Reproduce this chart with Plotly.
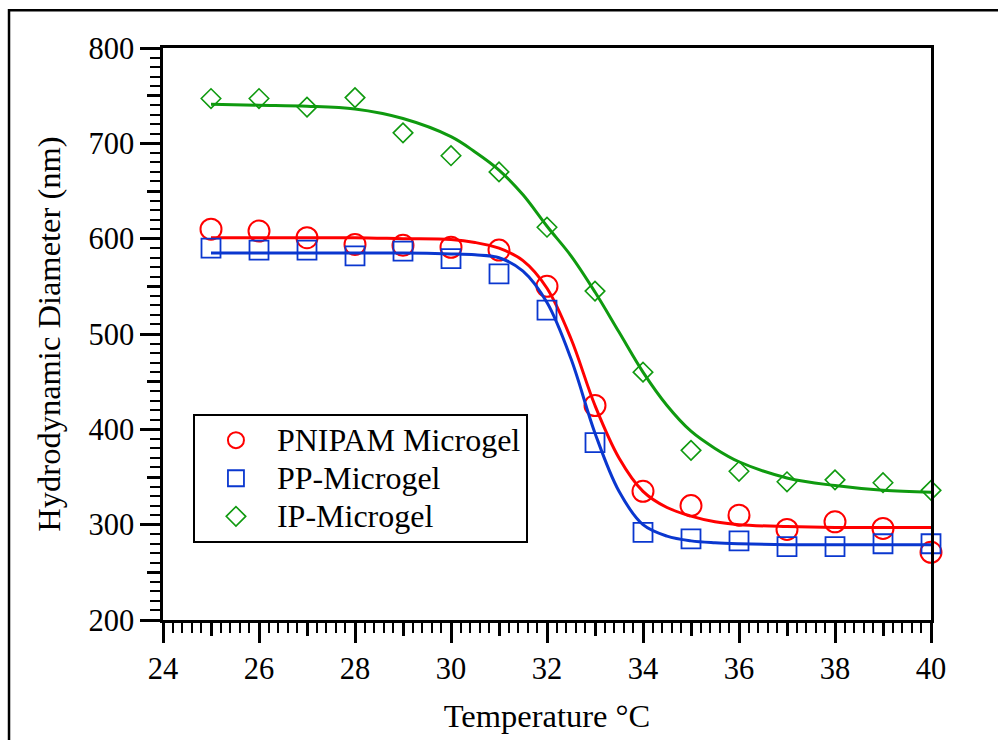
import plotly.graph_objects as go

# ---- measured data ----
temps = [25, 26, 27, 28, 29, 30, 31, 32, 33, 34, 35, 36, 37, 38, 39, 40]
pnipam = [610, 608, 601, 594, 593, 591, 588, 550, 425, 335, 320, 310, 295, 303, 296, 271]
pp = [590, 588, 588, 582, 587, 579, 563, 525, 386, 292, 285, 283, 277, 277, 280, 280]
ip = [747, 747, 738, 748, 711, 687, 670, 612, 545, 460, 378, 356, 345, 347, 344, 336]

# ---- fitted curves ----
fit_t = [25, 26, 27, 28, 29, 30, 30.5, 31, 31.5, 32, 32.5, 33, 33.5, 34, 34.5, 35, 35.5, 36, 37, 38, 39, 40]
fit_pnipam = [601, 601, 601, 601, 600, 599, 596, 590, 577, 548, 495, 425, 370, 335, 318, 309, 303, 300, 298, 297, 297, 297]
fit_pp = [585, 585, 585, 585, 585, 584, 583, 580, 566, 533, 474, 396, 335, 300, 288, 283, 281, 280, 279, 279, 279, 279]
fit_ip = [741, 740, 739, 736, 726, 707, 691, 672, 646, 613, 582, 544, 502, 460, 425, 398, 380, 366, 349, 341, 336, 334]

names = ["PNIPAM Microgel", "PP-Microgel", "IP-Microgel"]
x_ticks = [24, 26, 28, 30, 32, 34, 36, 38, 40]
y_ticks = [200, 300, 400, 500, 600, 700, 800]

RED = "#ff0000"
BLUE = "#0a37cf"
GREEN = "#0f9a0f"
FONT = "Liberation Serif"


def big(s):
    return '<span style="font-size:32px">' + s + '</span>'


fig = go.Figure()

fig.add_trace(go.Scatter(x=fit_t, y=fit_ip, mode="lines", line=dict(color=GREEN, width=3, shape="spline"),
                         showlegend=False, hoverinfo="skip"))
fig.add_trace(go.Scatter(x=fit_t, y=fit_pnipam, mode="lines", line=dict(color=RED, width=3, shape="spline"),
                         showlegend=False, hoverinfo="skip"))
fig.add_trace(go.Scatter(x=fit_t, y=fit_pp, mode="lines", line=dict(color=BLUE, width=3, shape="spline"),
                         showlegend=False, hoverinfo="skip", xaxis="x2", yaxis="y2"))

fig.add_trace(go.Scatter(x=temps, y=pnipam, mode="markers", name=big(names[0]), cliponaxis=False,
                         marker=dict(symbol="circle-open", size=21, color=RED, line=dict(width=2, color=RED))))
fig.add_trace(go.Scatter(x=temps, y=pp, mode="markers", name=big(names[1]), cliponaxis=False,
                         marker=dict(symbol="square-open", size=19, color=BLUE, line=dict(width=1.8, color=BLUE))))
fig.add_trace(go.Scatter(x=temps, y=ip, mode="markers", name=big(names[2]), cliponaxis=False,
                         marker=dict(symbol="diamond-open", size=15, color=GREEN, line=dict(width=1.6, color=GREEN))))

axis_common = dict(showgrid=False, zeroline=False, ticks="outside", tickcolor="black", tickwidth=2.5)

fig.update_layout(
    width=998, height=740,
    margin=dict(l=163, r=67, t=48, b=118),
    paper_bgcolor="white", plot_bgcolor="white",
    font=dict(family=FONT, size=30, color="black"),
    xaxis=dict(range=[24, 40], tickvals=x_ticks, ticklen=20, showline=True, linecolor="black", linewidth=2.5,
               mirror=True, minor=dict(dtick=0.2, ticklen=10, tickcolor="black", tickwidth=2, ticks="outside"),
               tickfont=dict(size=30.5), title=dict(text="Temperature °C", font=dict(size=32.5), standoff=19),
               **axis_common),
    yaxis=dict(range=[200, 800], tickvals=y_ticks, ticklen=20, showline=True, linecolor="black", linewidth=2.5,
               mirror=True, minor=dict(dtick=10, ticklen=10, tickcolor="black", tickwidth=2, ticks="outside"),
               tickfont=dict(size=30.5), title=dict(text="Hydrodynamic Diameter (nm)", font=dict(size=32.5), standoff=19),
               **axis_common),
    xaxis2=dict(overlaying="x", matches="x", range=[24, 40], dtick=1, tick0=24, ticklen=15, showticklabels=False,
                showline=False, side="bottom", **axis_common),
    yaxis2=dict(overlaying="y", matches="y", range=[200, 800], dtick=50, tick0=200, ticklen=15,
                showticklabels=False, showline=False, side="left", **axis_common),
    legend=dict(x=0.039, y=0.36, xanchor="left", yanchor="top", bgcolor="white", bordercolor="black",
                borderwidth=2, font=dict(size=27, family=FONT), itemwidth=72, tracegroupgap=0),
    shapes=[dict(type="rect", xref="paper", yref="paper", x0=-0.2005, x1=1.12, y0=-0.26, y1=1.0662,
                 line=dict(color="black", width=2.5), fillcolor="rgba(0,0,0,0)", layer="below")],
)

fig.write_html("out.html")
